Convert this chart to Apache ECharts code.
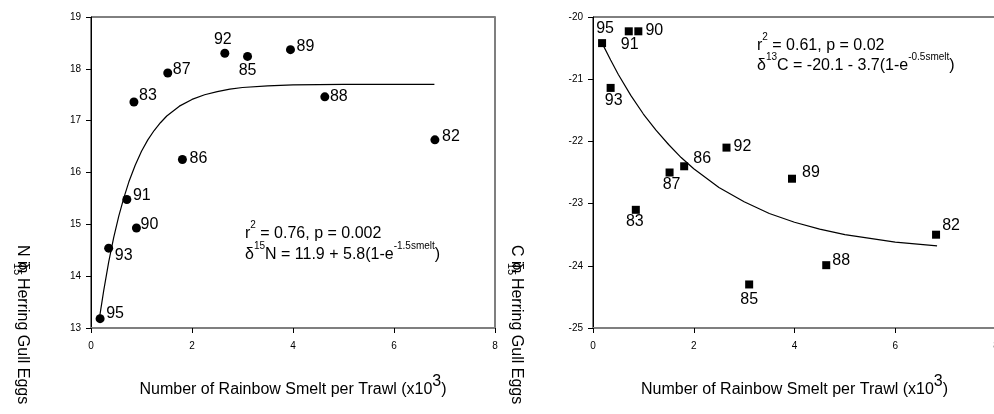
<!DOCTYPE html>
<html>
<head>
<meta charset="utf-8">
<script src="https://cdn.jsdelivr.net/npm/echarts@6/dist/echarts.min.js"></script>
<style>
  html, body { margin: 0; padding: 0; background: #ffffff; }
  #main { width: 994px; height: 414px; }
</style>
</head>
<body>
<div id="main"></div>
<script>
// years (point labels), shared by both panels
const years = ['95', '93', '91', '90', '83', '87', '86', '92', '85', '89', '88', '82'];
// smelt per trawl (x10^3)
const smelt = [0.18, 0.35, 0.71, 0.90, 0.85, 1.52, 1.81, 2.65, 3.10, 3.95, 4.63, 6.81];
// delta 15N and delta 13C in herring gull eggs
const d15N = [13.18, 14.54, 15.48, 14.93, 17.36, 17.92, 16.25, 18.30, 18.24, 18.37, 17.46, 16.63];
const d13C = [-20.42, -21.14, -20.23, -20.23, -23.10, -22.50, -22.40, -22.10, -24.30, -22.60, -23.99, -23.50];

// fitted curves
const fitNx = [0.17, 0.25, 0.35, 0.45, 0.55, 0.65, 0.75, 0.875, 1, 1.125, 1.25, 1.375, 1.5, 1.75, 2, 2.25, 2.5, 2.75, 3, 3.5, 4, 5, 6.8];
const fitNy = [13.21, 13.71, 14.27, 14.75, 15.16, 15.51, 15.82, 16.14, 16.41, 16.63, 16.81, 16.96, 17.09, 17.28, 17.41, 17.50, 17.56, 17.61, 17.64, 17.67, 17.69, 17.70, 17.70];
const fitCx = [0.18, 0.35, 0.5, 0.75, 1, 1.25, 1.5, 1.75, 2, 2.5, 3, 3.5, 4, 4.5, 5, 5.5, 6, 6.83];
const fitCy = [-20.42, -20.69, -20.92, -21.26, -21.56, -21.82, -22.05, -22.26, -22.44, -22.74, -22.97, -23.16, -23.30, -23.41, -23.50, -23.56, -23.62, -23.68];

// label offsets (label centre relative to the marker), same order as years
const offN = [[15, -5], [15, 7], [15, -4], [13, -3], [14, -6], [14, -3], [16, -1], [-2, -14], [0, 14], [15, -3], [14, 0], [16, -3]];
const offC = [[3, -15], [3, 13], [1, 13], [16, -1], [-1, 12], [2, 12], [18, -8], [16, -1], [0, 15], [19, -6], [15, -5], [15, -9]];

const FONT = '"Liberation Sans", Arial, Helvetica, sans-serif';
const GRAY = '#7f7f7f';

const chart = echarts.init(document.getElementById('main'));

function points(ys, offs) {
  return smelt.map((x, i) => ({
    value: [x, ys[i]],
    label: { offset: offs[i] }
  }));
}

function pairs(xs, ys) {
  return xs.map((x, i) => [x, ys[i]]);
}

function xAxis(idx) {
  return {
    type: 'value', gridIndex: idx, min: 0, max: 8, interval: 2,
    splitLine: { show: false },
    axisLine: { lineStyle: { color: GRAY, width: 2 } },
    axisTick: { length: 5, lineStyle: { color: '#000' } },
    axisLabel: { fontSize: 10, fontFamily: FONT, color: '#000', margin: 13 },
    name: '{a|Number of Rainbow Smelt per Trawl (x10}{s|3}{a|)}',
    nameLocation: 'middle',
    nameGap: 46,
    nameTextStyle: {
      rich: {
        a: { fontSize: 16, fontFamily: FONT, color: '#000', lineHeight: 24, verticalAlign: 'bottom' },
        s: { fontSize: 16, fontFamily: FONT, color: '#000', lineHeight: 17, verticalAlign: 'top' }
      }
    }
  };
}

function yAxis(idx, min, max) {
  return {
    type: 'value', gridIndex: idx, min: min, max: max, interval: 1,
    splitLine: { show: false },
    axisLine: { show: true, lineStyle: { color: '#000', width: 1 } },
    axisTick: { show: true, length: 5, lineStyle: { color: '#000' } },
    axisLabel: { fontSize: 10, fontFamily: FONT, color: '#000', margin: 10 }
  };
}

function rightBorder(idx, min, max) {
  return {
    type: 'value', gridIndex: idx, position: 'right', min: min, max: max,
    splitLine: { show: false },
    axisLine: { show: true, lineStyle: { color: GRAY, width: 2 } },
    axisTick: { show: false }, axisLabel: { show: false }
  };
}

const labelStyle = {
  show: true, position: 'inside', fontSize: 16, fontFamily: FONT, color: '#000',
  formatter: p => years[p.dataIndex]
};

const richEq = {
  n: { fontSize: 16, fontFamily: FONT, fill: '#000', lineHeight: 22, verticalAlign: 'bottom' },
  s: { fontSize: 10, fontFamily: FONT, fill: '#000', lineHeight: 16, verticalAlign: 'top' }
};

function eqText(x, y, text) {
  return {
    type: 'text', x: x, y: y, silent: true,
    style: { text: text, rich: richEq, align: 'left', verticalAlign: 'middle' }
  };
}

function yTitle(x, y, letter) {
  return [
    { type: 'text', x: x, y: y, rotation: -Math.PI / 2, silent: true,
      style: { text: letter + ' in Herring Gull Eggs', fontSize: 16, fontFamily: FONT, fill: '#000', align: 'left', verticalAlign: 'middle' } },
    { type: 'text', x: x + 1, y: y + 17, rotation: -Math.PI / 2, silent: true,
      style: { text: 'δ', fontSize: 15, fontFamily: FONT, fill: '#000', align: 'left', verticalAlign: 'middle' } },
    { type: 'text', x: x - 5, y: y + 18, rotation: -Math.PI / 2, silent: true,
      style: { text: '15', fontSize: 11, fontFamily: FONT, fill: '#000', align: 'left', verticalAlign: 'middle' } }
  ];
}

const option = {
  backgroundColor: '#ffffff',
  animation: false,
  grid: [
    { left: 91, top: 17, width: 404, height: 311, show: true, borderColor: '#000', borderWidth: 1, outerBoundsMode: 'none' },
    { left: 593, top: 17, width: 403, height: 311, show: true, borderColor: '#000', borderWidth: 1, outerBoundsMode: 'none' }
  ],
  xAxis: [xAxis(0), xAxis(1)],
  yAxis: [yAxis(0, 13, 19), yAxis(1, -25, -20), rightBorder(0, 13, 19), rightBorder(1, -25, -20)],
  series: [
    {
      type: 'line', xAxisIndex: 0, yAxisIndex: 0, data: pairs(fitNx, fitNy),
      smooth: false, symbol: 'none',
      lineStyle: { color: '#000', width: 1.2 }
    },
    {
      type: 'scatter', xAxisIndex: 0, yAxisIndex: 0, data: points(d15N, offN),
      symbol: 'circle', symbolSize: 9, itemStyle: { color: '#000', opacity: 1 },
      label: labelStyle
    },
    {
      type: 'line', xAxisIndex: 1, yAxisIndex: 1, data: pairs(fitCx, fitCy),
      smooth: false, symbol: 'none',
      lineStyle: { color: '#000', width: 1.2 }
    },
    {
      type: 'scatter', xAxisIndex: 1, yAxisIndex: 1, data: points(d13C, offC),
      symbol: 'rect', symbolSize: 8, itemStyle: { color: '#000', opacity: 1 },
      label: labelStyle
    }
  ],
  graphic: [
    eqText(245, 231, '{n|r}{s|2}{n| = 0.76, p = 0.002}'),
    eqText(245, 252, '{n|δ}{s|15}{n|N = 11.9 + 5.8(1-e}{s|-1.5smelt}{n|)}'),
    eqText(757, 43, '{n|r}{s|2}{n| = 0.61, p = 0.02}'),
    eqText(757, 63, '{n|δ}{s|13}{n|C = -20.1 - 3.7(1-e}{s|-0.5smelt}{n|)}')
  ].concat(yTitle(22, 245, 'N'), yTitle(516, 245, 'C'))
};

chart.setOption(option);
</script>
</body>
</html>
